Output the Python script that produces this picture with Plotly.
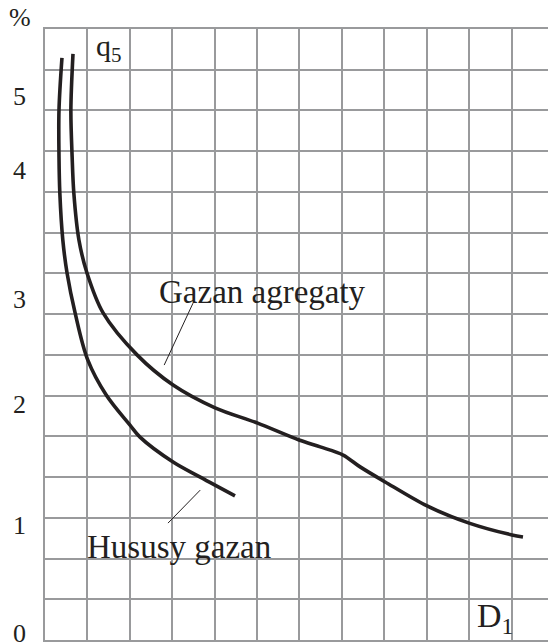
import plotly.graph_objects as go

# Curves, in grid units (x: grid columns from the left edge, y: grid rows from the bottom)
hususy_x = [0.40, 0.33, 0.33, 0.35, 0.42, 0.52, 0.71, 1.01, 1.44, 2.00, 2.24, 3.02, 3.66, 4.48]
hususy_y = [14.29, 13.01, 11.86, 10.97, 9.82, 9.01, 8.03, 6.87, 6.02, 5.28, 4.98, 4.37, 4.00, 3.54]

agregat_x = [0.66, 0.61, 0.64, 0.68, 0.80, 0.99, 1.37, 2.17, 3.02, 4.01, 5.00, 5.99,
             6.49, 7.03, 7.43, 8.02, 9.01, 10.00, 11.01, 11.27]
agregat_y = [14.39, 13.01, 11.86, 10.97, 9.82, 9.01, 8.03, 7.00, 6.26, 5.70, 5.33, 4.91,
             4.74, 4.54, 4.25, 3.88, 3.29, 2.87, 2.58, 2.53]

# y tick labels (%), at their positions on the grid
ytick_text = ["0", "1", "2", "3", "4", "5"]
ytick_pos = [0.17, 2.82, 5.80, 8.38, 11.54, 13.37]

# leader lines for the labels
leader_gazan_x = [3.49, 2.81]
leader_gazan_y = [8.27, 6.75]
leader_hususy_x = [3.66, 2.90]
leader_hususy_y = [3.68, 2.87]

N_COLS = 11.86
N_ROWS = 15

INK = "#231f20"
GRID = "#999a9c"
SERIF = "Liberation Serif"

fig = go.Figure()

fig.add_trace(go.Scatter(x=hususy_x, y=hususy_y, mode="lines",
                         line=dict(color=INK, width=3.6, shape="spline", smoothing=1.0),
                         showlegend=False, hoverinfo="skip"))
fig.add_trace(go.Scatter(x=agregat_x, y=agregat_y, mode="lines",
                         line=dict(color=INK, width=3.6, shape="spline", smoothing=0.9),
                         showlegend=False, hoverinfo="skip"))
for lx, ly in [(leader_gazan_x, leader_gazan_y), (leader_hususy_x, leader_hususy_y)]:
    fig.add_trace(go.Scatter(x=lx, y=ly, mode="lines", line=dict(color=INK, width=1),
                             showlegend=False, hoverinfo="skip"))

# invisible trace on yaxis2 so it is rendered
fig.add_trace(go.Scatter(x=[0], y=[0], yaxis="y2", mode="markers",
                         marker=dict(opacity=0), showlegend=False, hoverinfo="skip"))

annots = [
    dict(text="Gazan agregaty", x=2.64, y=8.54, xanchor="left", yanchor="middle",
         font=dict(size=33, color=INK, family=SERIF)),
    dict(text="Hususy gazan", x=0.94, y=2.28, xanchor="left", yanchor="middle",
         font=dict(size=33, color=INK, family=SERIF)),
    dict(text="D<sub>1</sub>", x=10.15, y=0.54, xanchor="left", yanchor="middle",
         font=dict(size=34, color=INK, family=SERIF)),
    dict(text="q<sub>5</sub>", x=1.16, y=14.53, xanchor="left", yanchor="middle",
         font=dict(size=30, color=INK, family=SERIF)),
]
for a in annots:
    a.update(xref="x", yref="y", showarrow=False)
annots.append(dict(text="%", xref="paper", yref="paper", x=-0.05, y=1.0196,
                   xanchor="center", yanchor="middle", showarrow=False,
                   font=dict(size=26, color=INK, family=SERIF)))

fig.update_layout(
    width=548, height=643,
    margin=dict(l=45, r=0, t=29, b=3, autoexpand=False),
    font=dict(family=SERIF, color=INK),
    paper_bgcolor="white", plot_bgcolor="white",
    annotations=annots,
    xaxis=dict(range=[0, N_COLS], dtick=1, tick0=0, showgrid=True, gridcolor=GRID,
               gridwidth=2, zeroline=False, showticklabels=False, ticks="",
               showline=True, linecolor=GRID, linewidth=2, mirror=True, automargin=False),
    yaxis=dict(range=[0, N_ROWS], dtick=1, tick0=0, showgrid=True, gridcolor=GRID,
               gridwidth=2, zeroline=False, showticklabels=False, ticks="",
               showline=True, linecolor=GRID, linewidth=2, automargin=False),
    yaxis2=dict(range=[0, N_ROWS], overlaying="y", side="left", anchor="x",
                tickmode="array", tickvals=ytick_pos, ticktext=ytick_text,
                showgrid=False, zeroline=False, showline=False, ticks="",
                ticklabelstandoff=18, automargin=False, ticklabeloverflow="allow",
                tickfont=dict(size=26, color=INK, family=SERIF)),
)

fig.write_html("out.html", config={"displayModeBar": False},
               post_script="document.body.style.margin='0px';")
